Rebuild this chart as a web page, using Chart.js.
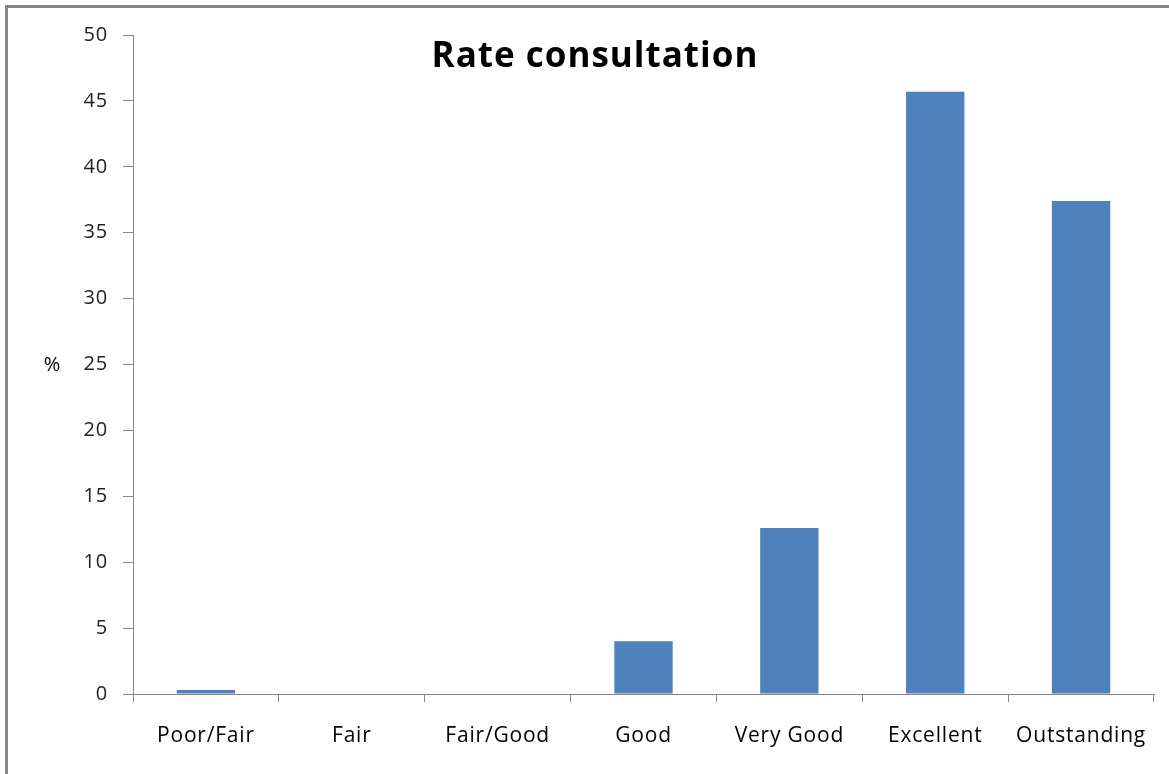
<!DOCTYPE html>
<html>
<head>
<meta charset="utf-8">
<script src="https://cdn.jsdelivr.net/npm/chart.js@4"></script>
<style>
  html, body { margin: 0; padding: 0; background: #fff; overflow: hidden; }
  .frame {
    position: absolute; left: 5px; top: 5px; width: 1200px; height: 800px;
    border-left: 3px solid #868686; border-top: 3px solid #868686;
  }
  .chart-container { position: absolute; left: 0; top: 0; width: 1169px; height: 774px; }
</style>
</head>
<body>
<div class="frame"></div>
<div class="chart-container"><canvas id="chart"></canvas></div>
<script>
const categories = ['Poor/Fair', 'Fair', 'Fair/Good', 'Good', 'Very Good', 'Excellent', 'Outstanding'];
const percentages = [0.3, 0, 0, 4.0, 12.6, 45.7, 37.4];
const yTicks = [0, 5, 10, 15, 20, 25, 30, 35, 40, 45, 50];

const chartTitle = 'Rate consultation';
const yAxisLabel = '%';

const axisGray = '#868686';
const fontFamily = '"Open Sans", Lato, sans-serif';

// slightly loose tracking for all axis text
const tracking = {
    id: 'tracking',
    beforeDraw(chart) { chart.ctx.letterSpacing = '0.8px'; }
};

// title and unit label sit inside the plot, so draw them by hand
const overlayText = {
    id: 'overlayText',
    afterDraw(chart) {
        const ctx = chart.ctx;
        ctx.save();
        ctx.fillStyle = '#000';
        ctx.textAlign = 'center';
        ctx.textBaseline = 'alphabetic';
        ctx.letterSpacing = '1px';
        ctx.font = 'bold 35px ' + fontFamily;
        ctx.fillText(chartTitle, 595, 67);
        ctx.letterSpacing = '0px';
        ctx.font = '20px ' + fontFamily;
        ctx.fillText(yAxisLabel, 52, 371);
        ctx.restore();
    }
};

const ctx = document.getElementById('chart').getContext('2d');
const myChart = new Chart(ctx, {
    type: 'bar',
    data: {
        labels: categories,
        datasets: [{
            label: chartTitle,
            data: percentages,
            backgroundColor: '#4F81BD',
            borderWidth: 0,
            barPercentage: 0.4,
            categoryPercentage: 1.0
        }]
    },
    options: {
        responsive: true,
        maintainAspectRatio: false,
        animation: false,
        layout: { padding: { top: 35, right: 15, left: 0, bottom: 0 } },
        plugins: {
            legend: { display: false },
            tooltip: { enabled: false }
        },
        scales: {
            x: {
                type: 'category',
                offset: true,
                grid: {
                    offset: true,
                    drawOnChartArea: false,
                    drawTicks: true,
                    tickLength: 8,
                    color: axisGray
                },
                border: { color: axisGray, width: 1 },
                ticks: {
                    color: '#000',
                    padding: 21,
                    maxRotation: 0,
                    font: { family: fontFamily, size: 21 }
                },
                afterFit(scale) { scale.height = 80; }
            },
            y: {
                min: 0,
                max: 50,
                afterBuildTicks(scale) { scale.ticks = yTicks.map(v => ({ value: v })); },
                grid: {
                    drawOnChartArea: false,
                    drawTicks: true,
                    tickLength: 10,
                    color: axisGray
                },
                border: { color: axisGray, width: 1 },
                ticks: {
                    color: '#222',
                    padding: 15,
                    font: { family: fontFamily, size: 20 }
                },
                afterFit(scale) { scale.width = 133; }
            }
        }
    },
    plugins: [tracking, overlayText]
});
</script>
</body>
</html>
